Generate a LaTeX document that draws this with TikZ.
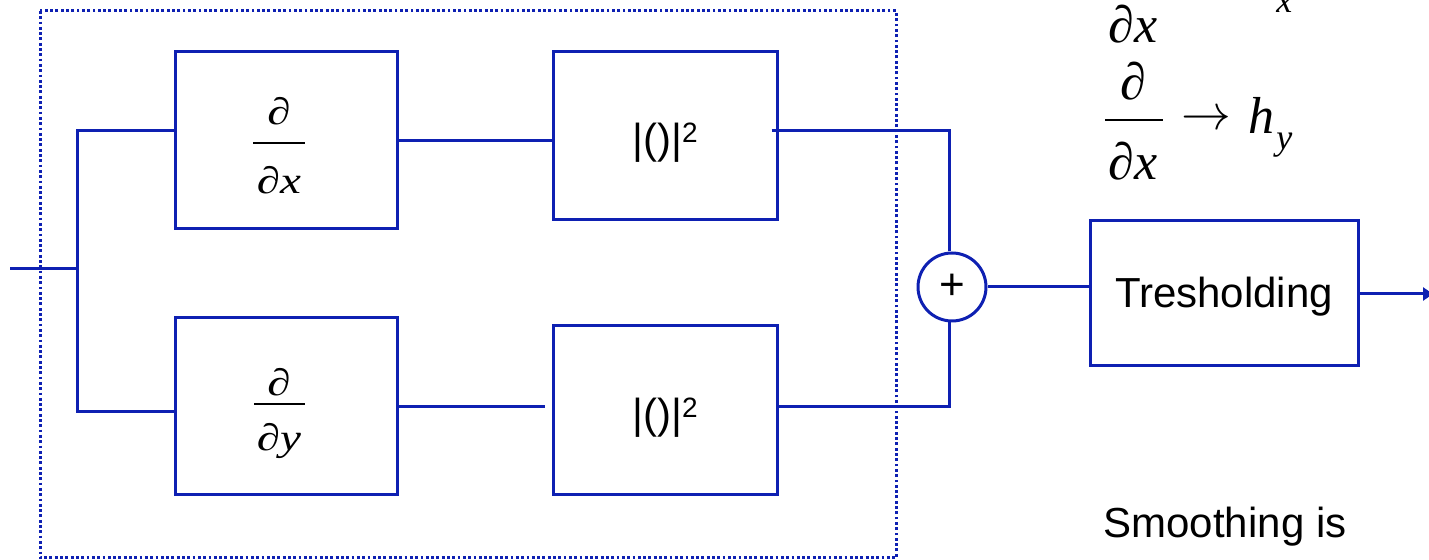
\documentclass[tikz,border=0pt]{standalone}
\usepackage{graphicx}
\usepackage{fontspec}
\setmainfont{Liberation Serif}
\newfontfamily\arialfont{Liberation Sans}
\usetikzlibrary{arrows.meta}
\definecolor{lineblue}{RGB}{14,32,178}
\newcommand\sqtext{|()|\raisebox{5.5pt}{\fontsize{14}{16}\selectfont 2}}
\tikzset{
  wire/.style={draw=lineblue, line width=1.5pt},
  blockbox/.style={draw=lineblue, line width=1.5pt, inner sep=0pt, fill=none},
  frame/.style={draw=lineblue, line width=1.5pt, dash pattern=on 1.4pt off 1.25pt},
  sanstext/.style={font=\arialfont\fontsize{21}{25}\selectfont, text=black, inner sep=0pt},
  boxglyph/.style={font=\fontsize{23.5}{27}\selectfont, text=black, inner sep=0pt, anchor=base},
  fracbar/.style={draw=black, line width=1.4pt},
  sideglyph/.style={font=\fontsize{26}{30}\selectfont, text=black, inner sep=0pt, anchor=base},
  subglyph/.style={font=\fontsize{18}{20}\selectfont, text=black, inner sep=0pt, anchor=base west}
}
\newcommand\sq[1]{\scalebox{1}[0.8]{#1}}
\begin{document}
\begin{tikzpicture}[x=0.5pt, y=-0.5pt]
\useasboundingbox (0,0) rectangle (1429,560);
\clip (0,0) rectangle (1429,560);
% dotted frame
\draw[frame] (40,11) rectangle (896,558);
% blocks
\node[blockbox, minimum width=111pt, minimum height=88.5pt] (dx) at (286,140.5) {};
\node[blockbox, minimum width=111pt, minimum height=88.5pt] (dy) at (286,406.5) {};
\node[blockbox, minimum width=112pt, minimum height=84pt,
  label={[sanstext, yshift=-3.5pt]center:\sqtext}] (sqa) at (665,136) {};
\node[blockbox, minimum width=112pt, minimum height=84.5pt,
  label={[sanstext, yshift=-3.5pt]center:\sqtext}] (sqb) at (665,410.5) {};
\node[blockbox, circle, minimum size=34pt, font=\arialfont\fontsize{22}{24}\selectfont] (sum) at (952,287) {+};
\node[blockbox, minimum width=134pt, minimum height=72.5pt,
  label={[sanstext, yshift=-1.8pt]center:Tresholding}] (thr) at (1224,293.5) {};
% fractions in the blocks
\node[boxglyph] (dxnum) at (279,125) {\sq{∂}};
\draw[fracbar] (253,143) -- (305,143);
\node[boxglyph] (dxden) at (279,194) {\sq{∂\textit{x}}};
\node[boxglyph] (dynum) at (279,396) {\sq{∂}};
\draw[fracbar] (254,404) -- (305,404);
\node[boxglyph] (dyden) at (279,451) {\sq{∂\textit{y}}};
% connectors
\coordinate (in) at (10,269);
\coordinate (j) at (77,269);
\coordinate (out) at (1433,294);
\draw[wire] (in) -- (j);
\draw[wire] ([yshift=4.75pt]dx.west) -| (j) |- ([yshift=-2.75pt]dy.west);
\draw[wire] (dx.east) -- (dx.east -| sqa.west);
\draw[wire] ([xshift=-3.5pt,yshift=2.5pt]sqa.east) -| ([xshift=-1.5pt]sum.north);
\draw[wire] (dy.east) -- ([xshift=-3.5pt]dy.east -| sqb.west);
\draw[wire] ([yshift=2pt]sqb.east) -| ([xshift=-1.5pt]sum.south);
\draw[wire] (sum.east) -- (sum.east -| thr.west);
\draw[wire, -{Triangle[length=5pt,width=6.5pt]}] (thr.east |- out) -- (out);
% side formulas (upper one cut by the edge)
\node[sideglyph] (topden) at (1133,43) {∂\textit{x}};
\node[subglyph] (topsub) at (1276,13) {\textit{x}};
\node[sideglyph] (hynum) at (1133,100) {∂};
\draw[fracbar] (1105,120) -- (1163,120);
\node[sideglyph] (hyden) at (1133,180) {∂\textit{x}};
\node[sideglyph, font=\fontsize{25}{30}\selectfont] (arr) at (1206,130) {$\rightarrow$};
\node[sideglyph, anchor=base west] (hh) at (1248,134) {\textit{h}};
\node[subglyph] (hsub) at (1276,150) {\textit{y}};
\node[sanstext, anchor=base] (smooth) at (1225,538) {Smoothing is};
\end{tikzpicture}
\end{document}
